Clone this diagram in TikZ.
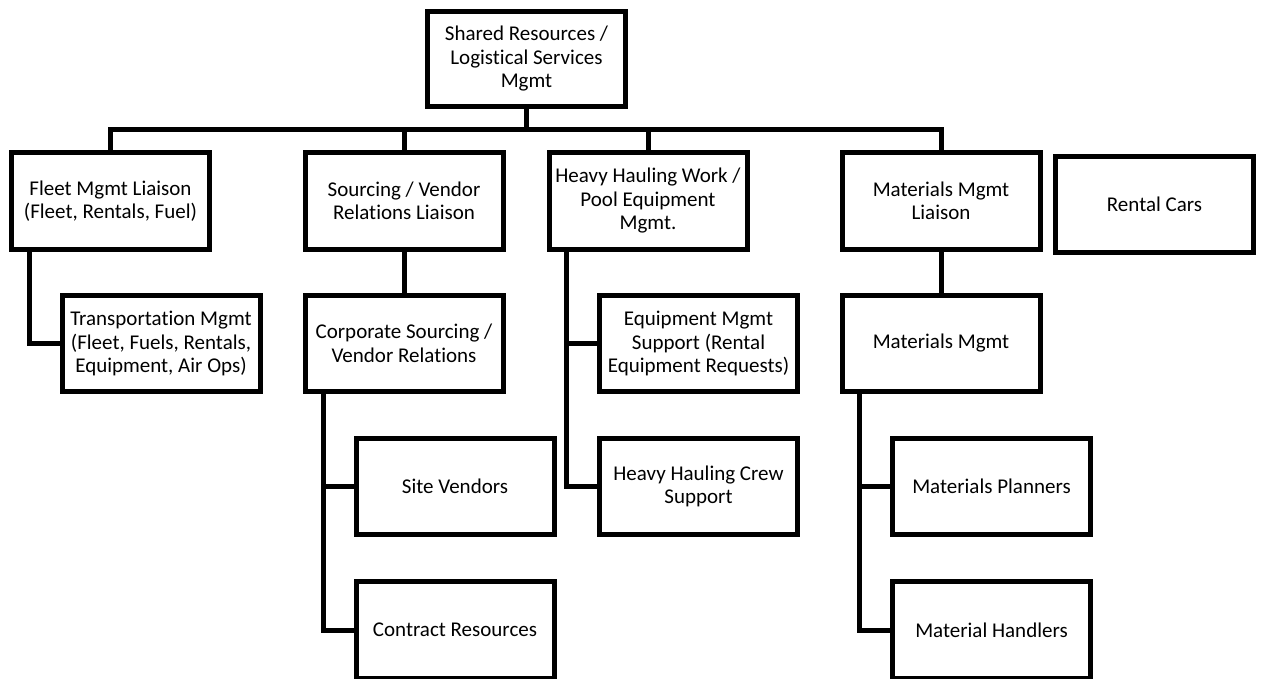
\documentclass[tikz,border=0pt]{standalone}
\usepackage{fontspec}
\setmainfont{Carlito}[Ligatures={NoCommon,NoContextual}]
\usetikzlibrary{calc}
\begin{document}
\begin{tikzpicture}[x=1pt,y=-1pt,
  orgbox/.style={draw=black, line width=5pt, minimum width=198pt, minimum height=96.5pt,
    inner sep=0pt, align=center, font=\fontsize{21}{23.5}\selectfont},
  link/.style={draw=black, line width=5pt}]
\fill[white] (0,0) rectangle (1262,679);
\useasboundingbox (0,0) rectangle (1262,679);

\node[orgbox, minimum height=95pt] (top) at (526.5,59) {Shared Resources /\\Logistical Services\\Mgmt};
\node[orgbox] (fleet) at (110.5,201) {Fleet Mgmt Liaison\\(Fleet, Rentals, Fuel)};
\node[orgbox] (src) at (404,201) {Sourcing / Vendor\\Relations Liaison};
\node[orgbox] (heavy) at (648,201) {Heavy Hauling Work /\\Pool Equipment\\Mgmt.};
\node[orgbox] (matl) at (941,201) {Materials Mgmt\\Liaison};
\node[orgbox] (rental) at (1154.5,204.5) {Rental Cars};
\node[orgbox] (trans) at (161,343.5) {Transportation Mgmt\\(Fleet, Fuels, Rentals,\\Equipment, Air Ops)};
\node[orgbox] (corp) at (404,343.5) {Corporate Sourcing /\\Vendor Relations};
\node[orgbox] (equip) at (698.5,343.5) {Equipment Mgmt\\Support (Rental\\Equipment Requests)};
\node[orgbox] (matm) at (941,343.5) {Materials Mgmt};
\node[orgbox] (site) at (455,486.5) {Site Vendors};
\node[orgbox] (crew) at (698.5,486.5) {Heavy Hauling Crew\\Support};
\node[orgbox] (plan) at (991.5,486.5) {Materials Planners};
\node[orgbox] (contract) at (455,630) {Contract Resources};
\node[orgbox] (hand) at (991.5,630) {Material Handlers};

\coordinate (bus) at (526.5,130);
\draw[link] (top.south) -- (bus);
\draw[link] (fleet.north) |- (bus) -| (matl.north);
\draw[link] (src.north) -- (src.north |- bus);
\draw[link] (heavy.north) -- (heavy.north |- bus);
\draw[link] ([xshift=20.5pt]fleet.south west) |- (trans.west);
\draw[link] (src.south) -- (corp.north);
\draw[link] ([xshift=20.5pt]corp.south west) |- (site.west);
\draw[link] ([xshift=20.5pt]corp.south west) |- (contract.west);
\draw[link] ([xshift=20pt]heavy.south west) |- (equip.west);
\draw[link] ([xshift=20pt]heavy.south west) |- (crew.west);
\draw[link] (matl.south) -- (matm.north);
\draw[link] ([xshift=20pt]matm.south west) |- (plan.west);
\draw[link] ([xshift=20pt]matm.south west) |- (hand.west);
\end{tikzpicture}
\end{document}
